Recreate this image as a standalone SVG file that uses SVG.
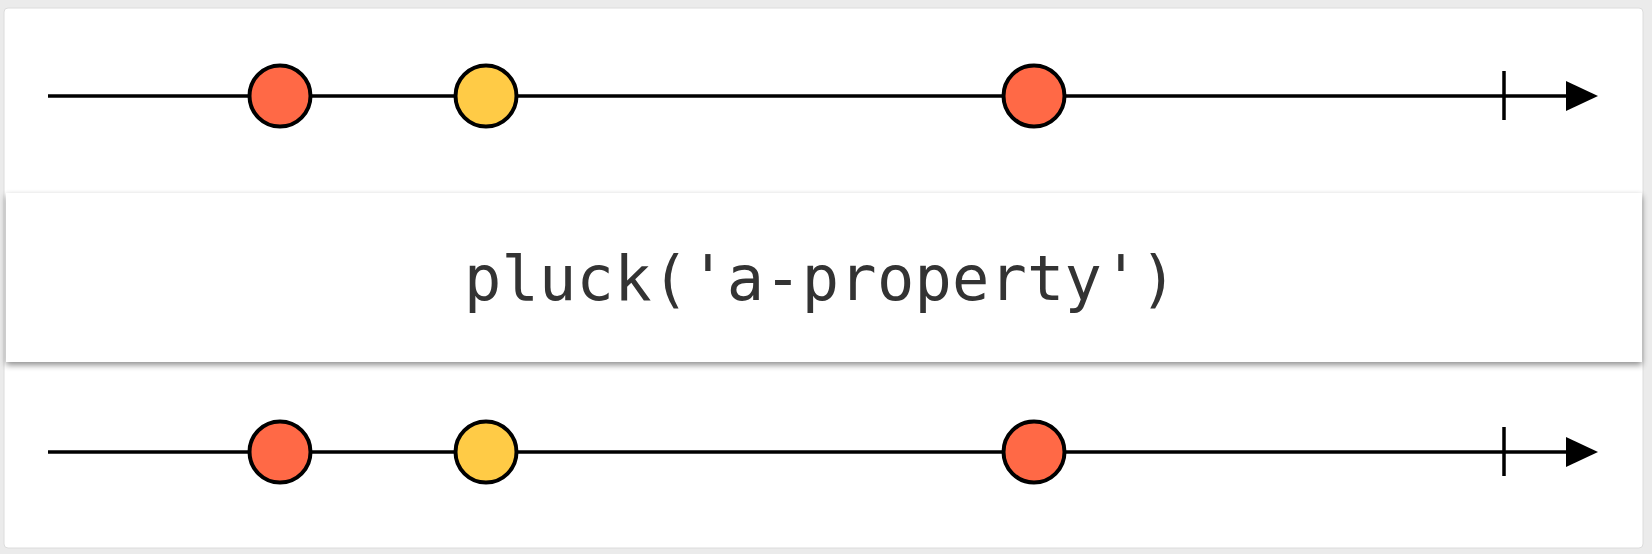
<svg xmlns="http://www.w3.org/2000/svg" width="1652" height="554" viewBox="0 0 1652 554">
<defs>
<style>
.axis{stroke:#000;stroke-width:3.5;fill:none}
.tick{stroke:#000;stroke-width:3.5}
.marble{stroke:#000;stroke-width:4}
.red{fill:#ff6946}
.yellow{fill:#ffcb46}
.op{font-family:"DejaVu Sans Mono","Liberation Mono",monospace;font-size:62px;fill:#333}
</style>
<marker id="arrow" markerUnits="userSpaceOnUse" markerWidth="32" markerHeight="30" refX="2" refY="15" orient="auto">
<path d="M0,0 L32,15 L0,30 Z" fill="#000"/>
</marker>
<filter id="shadow" x="-5%" y="-20%" width="110%" height="150%">
<feGaussianBlur in="SourceAlpha" stdDeviation="3"/>
<feOffset dx="0" dy="3" result="b"/>
<feComponentTransfer><feFuncA type="linear" slope="0.45"/></feComponentTransfer>
<feMerge><feMergeNode/><feMergeNode in="SourceGraphic"/></feMerge>
</filter>
</defs>
<rect x="0" y="0" width="1652" height="554" fill="#ebebeb"/>
<rect x="4" y="8" width="1639" height="540" rx="4" fill="#fff" stroke="#dcdcdc" stroke-width="1"/>
<g id="connectors">
<line class="axis" x1="48" y1="96" x2="1568" y2="96" marker-end="url(#arrow)"/>
<line class="tick" x1="1504" y1="71" x2="1504" y2="120"/>
<line class="axis" x1="48" y1="452" x2="1568" y2="452" marker-end="url(#arrow)"/>
<line class="tick" x1="1504" y1="427" x2="1504" y2="476"/>
</g>
<g id="top-marble-1"><circle class="marble red" cx="280" cy="96" r="30.5"/></g>
<g id="top-marble-2"><circle class="marble yellow" cx="486" cy="96" r="30.5"/></g>
<g id="top-marble-3"><circle class="marble red" cx="1034" cy="96" r="30.5"/></g>
<g id="operator">
<rect x="6" y="193" width="1636" height="169" fill="#fff" filter="url(#shadow)"/>
<text class="op" x="464" y="300" textLength="713" lengthAdjust="spacing">pluck('a-property')</text>
</g>
<g id="bottom-marble-1"><circle class="marble red" cx="280" cy="452" r="30.5"/></g>
<g id="bottom-marble-2"><circle class="marble yellow" cx="486" cy="452" r="30.5"/></g>
<g id="bottom-marble-3"><circle class="marble red" cx="1034" cy="452" r="30.5"/></g>
</svg>
